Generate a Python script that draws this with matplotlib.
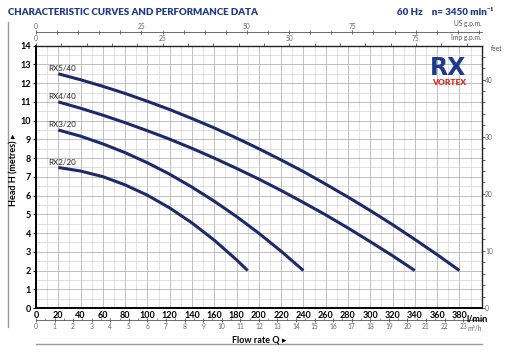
import matplotlib
matplotlib.use('Agg')
import matplotlib.pyplot as plt
from matplotlib.ticker import MultipleLocator

plt.rcParams['font.family'] = ['Lato', 'DejaVu Sans']

# flow rate (l/min) and head (m)
rx5_q = [20, 40, 60, 80, 100, 120, 140, 160, 180, 200, 220, 240, 260, 280, 300, 320, 340, 360, 380]
rx5_h = [12.5, 12.18, 11.83, 11.45, 11.03, 10.59, 10.11, 9.61, 9.07, 8.5, 7.9, 7.28, 6.61, 5.92, 5.2, 4.45, 3.66, 2.85, 2.0]
rx4_q = [20, 40, 60, 80, 100, 120, 140, 160, 180, 200, 220, 240, 260, 280, 300, 320, 340]
rx4_h = [11.0, 10.66, 10.29, 9.89, 9.46, 9.01, 8.52, 8.0, 7.45, 6.88, 6.27, 5.63, 4.97, 4.27, 3.54, 2.79, 2.0]
rx3_q = [20, 40, 60, 80, 100, 120, 140, 160, 180, 200, 220, 240]
rx3_h = [9.5, 9.17, 8.76, 8.29, 7.75, 7.14, 6.45, 5.7, 4.88, 3.99, 3.03, 2.0]
rx2_q = [20, 40, 60, 80, 100, 120, 140, 160, 180, 190]
rx2_h = [7.5, 7.31, 7.01, 6.57, 6.02, 5.34, 4.54, 3.62, 2.57, 2.0]

curves = [('RX5/40', rx5_q, rx5_h), ('RX4/40', rx4_q, rx4_h),
          ('RX3/20', rx3_q, rx3_h), ('RX2/20', rx2_q, rx2_h)]

flow_ticks = list(range(0, 381, 20))
head_ticks = list(range(0, 15))
m3h_ticks = list(range(0, 24))
us_ticks = [0, 25, 50, 75]
imp_ticks = [0, 25, 50, 75]
feet_ticks = [0, 10, 20, 30, 40]

NAVY = '#1c2a6b'
TITLE = '#1f3a8a'

fig = plt.figure(figsize=(5.12, 3.54), dpi=100)
ax = fig.add_axes([0.0703, 0.1299, 0.8705, 0.7411])

ax.set_xlim(0, 400)
ax.set_ylim(0, 14)

# grid
ax.xaxis.set_minor_locator(MultipleLocator(10))
ax.yaxis.set_minor_locator(MultipleLocator(0.5))
ax.grid(which='major', color='#b4b4b4', lw=0.6)
ax.grid(which='minor', color='#d2d2d2', lw=0.5)
ax.set_axisbelow(True)

for name, q, h in curves:
    ax.plot(q, h, color=NAVY, lw=2.2, solid_capstyle='butt', zorder=3)
    ax.text(q[0] - 9, h[0] + 0.28, name, fontsize=5.8,
            color='#222222', ha='left', va='center')

ax.set_xticks(flow_ticks)
ax.set_xticklabels([str(v) for v in flow_ticks], fontsize=6.5, fontweight='bold')
ax.set_yticks(head_ticks)
ax.set_yticklabels([str(v) for v in head_ticks], fontsize=6.5, fontweight='bold')
ax.tick_params(axis='x', which='both', length=0, pad=2)
ax.tick_params(axis='y', which='major', length=2, width=0.8, pad=1.5)
ax.tick_params(axis='y', which='minor', length=0)

ax.spines['left'].set_linewidth(1.4)
ax.spines['bottom'].set_linewidth(1.4)
ax.spines['top'].set_linewidth(1.0)
ax.spines['right'].set_linewidth(1.0)
ax.spines['top'].set_color('#222222')
ax.spines['right'].set_color('#222222')

ax.text(386, -0.33, 'l/min', fontsize=6.5, fontweight='bold',
        ha='left', va='top', clip_on=False)

# m3/h scale below
m3 = ax.secondary_xaxis(-0.046, functions=(lambda x: x * 0.06, lambda x: x / 0.06))
m3.set_xticks(m3h_ticks)
m3.set_xticklabels([str(v) for v in m3h_ticks], fontsize=4.8, color='#666666')
m3.xaxis.set_minor_locator(MultipleLocator(0.5))
m3.tick_params(which='major', direction='inout', length=3, width=0.6, color='#555555', pad=0.5)
m3.tick_params(which='minor', direction='in', length=1.5, width=0.5, color='#555555')
m3.spines['bottom'].set_color('#555555')
m3.spines['bottom'].set_linewidth(0.6)
ax.text(1.0, -0.066, 'm³/h', transform=ax.transAxes, fontsize=4.8, color='#666666',
        ha='right', va='top')

# Imp g.p.m. scale on top edge
imp = ax.secondary_xaxis('top', functions=(lambda x: x / 4.54609, lambda x: x * 4.54609))
imp.set_xticks(imp_ticks)
imp.set_xticklabels([str(v) for v in imp_ticks], fontsize=4.8, color='#666666')
imp.xaxis.set_minor_locator(MultipleLocator(5))
imp.tick_params(which='both', direction='out', length=2, width=0.6, color='#555555', pad=0.5)
imp.spines['top'].set_visible(False)
ax.text(1.0, 1.018, 'Imp g.p.m.', transform=ax.transAxes, fontsize=4.8, color='#555555',
        ha='right', va='bottom')

# US g.p.m. scale above
us = ax.secondary_xaxis(1.052, functions=(lambda x: x / 3.78541, lambda x: x * 3.78541))
us.set_xticks(us_ticks)
us.set_xticklabels([str(v) for v in us_ticks], fontsize=4.8, color='#666666')
us.xaxis.set_minor_locator(MultipleLocator(5))
us.tick_params(which='both', direction='inout', length=2.5, width=0.6, color='#555555', pad=0.5)
us.spines['top'].set_color('#555555')
us.spines['top'].set_linewidth(0.6)
ax.text(1.0, 1.07, 'US g.p.m.', transform=ax.transAxes, fontsize=4.8, color='#555555',
        ha='right', va='bottom')

# feet scale on the right
ft = ax.secondary_yaxis('right', functions=(lambda x: x / 0.3048, lambda x: x * 0.3048))
ft.set_yticks(feet_ticks)
ft.set_yticklabels([str(v) for v in feet_ticks], fontsize=4.8, color='#666666')
ft.yaxis.set_minor_locator(MultipleLocator(2))
ft.tick_params(which='both', direction='out', length=2, width=0.6, color='#444444', pad=0.5)
ft.spines['right'].set_visible(False)
ax.text(1.02, 0.99, 'feet', transform=ax.transAxes, fontsize=4.8, color='#555555',
        ha='left', va='center')

# logo
ax.text(0.965, 0.913, 'RX', transform=ax.transAxes, fontsize=17, fontweight='heavy',
        color='#1f3a8a', ha='right', va='center', zorder=4, family='DejaVu Sans')
ax.text(0.965, 0.858, 'VORTEX', transform=ax.transAxes, fontsize=6, fontweight='heavy',
        color='#e3241b', ha='right', va='center', zorder=4)

# axis titles
fig.text(0.028, 0.52, 'Head H (metres) \u25b8', rotation=90, fontsize=6.5, fontweight='bold',
         ha='center', va='center')
fig.text(0.506, 0.04, 'Flow rate Q \u25b8', fontsize=6.5, fontweight='bold',
         ha='center', va='center')

# title
fig.text(0.016, 0.966, 'CHARACTERISTIC CURVES AND PERFORMANCE DATA', fontsize=7,
         fontweight='heavy', color=TITLE, ha='left', va='center')
fig.text(0.963, 0.966, '60 Hz    n= 3450 min\u207b\u00b9', fontsize=7,
         fontweight='heavy', color=TITLE, ha='right', va='center')

# thin frame lines
fig.add_artist(plt.Line2D([0.0156, 0.0156], [0.076, 0.938], color='#9a9a9a', lw=1.0))
fig.add_artist(plt.Line2D([0.0703, 0.9408], [0.028, 0.028], color='#9a9a9a', lw=1.0))

fig.savefig('out.png', dpi=100)
